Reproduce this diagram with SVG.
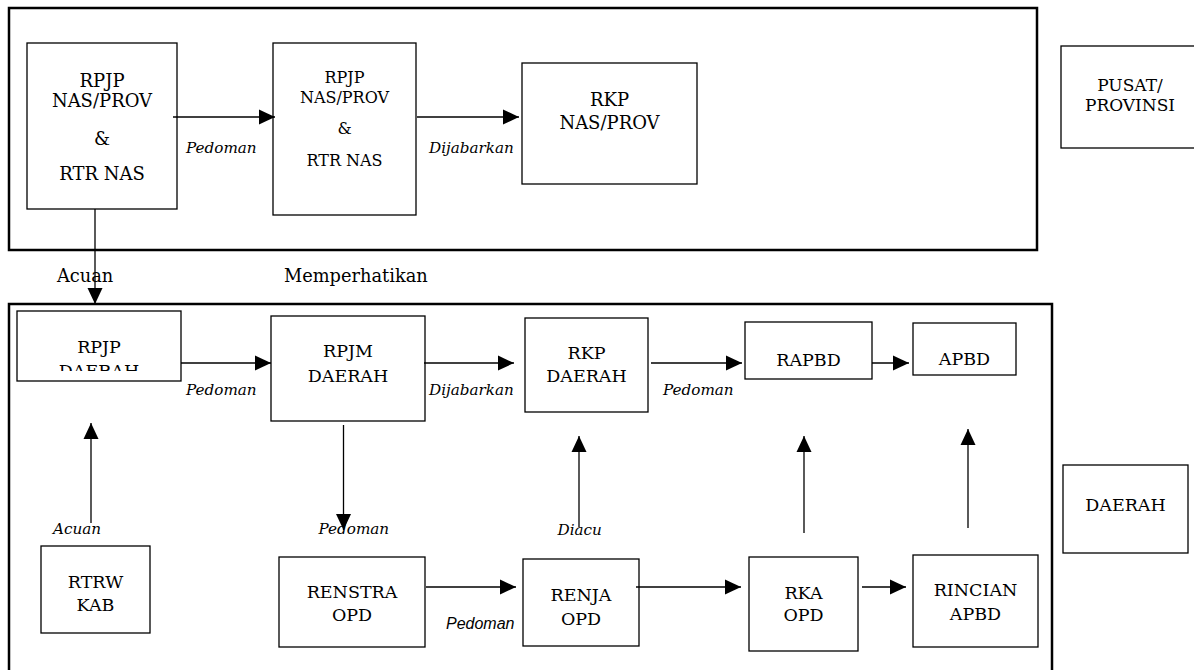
<svg xmlns="http://www.w3.org/2000/svg" width="1194" height="670" viewBox="0 0 1194 670">
<style>
.frame{fill:none;stroke:#000;stroke-width:2.5}
.box{fill:#fff;stroke:#000;stroke-width:1.3}
.t{font-family:"DejaVu Serif","Liberation Serif",serif;font-size:17.5px;fill:#000;text-anchor:middle}
.tb{font-family:"DejaVu Serif","Liberation Serif",serif;font-size:18px;fill:#000;text-anchor:middle}
.t2{font-family:"DejaVu Serif","Liberation Serif",serif;font-size:16px;fill:#000;text-anchor:middle}
.t3{font-family:"DejaVu Serif","Liberation Serif",serif;font-size:17px;fill:#000;text-anchor:middle}
.lab{font-family:"DejaVu Serif","Liberation Serif",serif;font-size:15.2px;font-style:italic;fill:#000}
.labs{font-family:"Liberation Sans",Arial,sans-serif;font-size:16px;font-style:italic;fill:#000}
.plain{font-family:"DejaVu Serif","Liberation Serif",serif;font-size:17.8px;fill:#000}
.c{fill:none;stroke:#000;stroke-width:1.3}
</style>
<defs>
<marker id="ah" markerUnits="userSpaceOnUse" markerWidth="16" markerHeight="16" viewBox="0 0 16 16" refX="16" refY="8" orient="auto">
<path d="M0,0.5 L16,8 L0,15.5 Z" fill="#000"/>
</marker>
<clipPath id="clipRpjp"><rect x="17" y="311" width="165" height="60"/></clipPath>
</defs>
<rect width="1194" height="670" fill="#fff"/>
<g id="frame-pusat"><rect class="frame" x="9" y="8" width="1028" height="242"/></g>
<g id="frame-daerah"><rect class="frame" x="9" y="304" width="1043" height="380"/></g>
<g id="pusat-provinsi"><rect class="box" x="1061" y="46" width="150" height="102"/><text class="t3" x="1130" y="91.2">PUSAT/</text><text class="t3" x="1130" y="111.2">PROVINSI</text></g>
<g id="daerah"><rect class="box" x="1063" y="465" width="125" height="88"/><text class="t" x="1125.5" y="511.4">DAERAH</text></g>
<g id="rpjp-nas"><rect class="box" x="27" y="43" width="150" height="166"/><text class="tb" x="102" y="86.5">RPJP</text><text class="tb" x="102" y="106.5">NAS/PROV</text><text class="tb" x="102" y="144.5">&amp;</text><text class="tb" x="102" y="179.5">RTR NAS</text></g>
<g id="rpjp-nas-2"><rect class="box" x="273" y="43" width="143" height="172"/><text class="t2" x="344.5" y="82.8">RPJP</text><text class="t2" x="344.5" y="102.8">NAS/PROV</text><text class="t2" x="344.5" y="133.8">&amp;</text><text class="t2" x="344.5" y="165.8">RTR NAS</text></g>
<g id="rkp-nas"><rect class="box" x="522" y="63" width="175" height="121"/><text class="tb" x="609.5" y="105.8">RKP</text><text class="tb" x="609.5" y="129.2">NAS/PROV</text></g>
<g id="rpjp-daerah"><rect class="box" x="17" y="311" width="164" height="70"/><g clip-path="url(#clipRpjp)"><text class="t" x="99" y="353">RPJP</text><text class="t" x="99" y="377">DAERAH</text></g></g>
<g id="rpjm-daerah"><rect class="box" x="271" y="316" width="154" height="105"/><text class="t" x="348" y="357">RPJM</text><text class="t" x="348" y="382">DAERAH</text></g>
<g id="rkp-daerah"><rect class="box" x="525" y="318" width="123" height="94"/><text class="t" x="586.5" y="359.4">RKP</text><text class="t" x="586.5" y="382.4">DAERAH</text></g>
<g id="rapbd"><rect class="box" x="745" y="322" width="127" height="57"/><text class="t" x="808.5" y="365.7">RAPBD</text></g>
<g id="apbd"><rect class="box" x="913" y="323" width="103" height="52"/><text class="t" x="964.5" y="365.4">APBD</text></g>
<g id="rtrw-kab"><rect class="box" x="41" y="546" width="109" height="87"/><text class="t" x="95.5" y="588">RTRW</text><text class="t" x="95.5" y="611.4">KAB</text></g>
<g id="renstra-opd"><rect class="box" x="279" y="557" width="146" height="90"/><text class="t" x="352" y="598">RENSTRA</text><text class="t" x="352" y="621.4">OPD</text></g>
<g id="renja-opd"><rect class="box" x="523" y="559" width="116" height="87"/><text class="t" x="581" y="601.4">RENJA</text><text class="t" x="581" y="624.7">OPD</text></g>
<g id="rka-opd"><rect class="box" x="749" y="557" width="109" height="94"/><text class="t" x="803.5" y="599">RKA</text><text class="t" x="803.5" y="621.4">OPD</text></g>
<g id="rincian-apbd"><rect class="box" x="913" y="555" width="125" height="92"/><text class="t" x="975.5" y="596.4">RINCIAN</text><text class="t" x="975.5" y="620.4">APBD</text></g>
<g id="connectors">
<line class="c" x1="173" y1="117" x2="275" y2="117" marker-end="url(#ah)"/>
<line class="c" x1="417" y1="117" x2="519" y2="117" marker-end="url(#ah)"/>
<line class="c" x1="95" y1="209" x2="95" y2="304" marker-end="url(#ah)"/>
<line class="c" x1="181" y1="363" x2="271" y2="363" marker-end="url(#ah)"/>
<line class="c" x1="424" y1="363" x2="514" y2="363" marker-end="url(#ah)"/>
<line class="c" x1="651" y1="363" x2="742" y2="363" marker-end="url(#ah)"/>
<line class="c" x1="872" y1="363" x2="909" y2="363" marker-end="url(#ah)"/>
<line class="c" x1="91" y1="523" x2="91" y2="423" marker-end="url(#ah)"/>
<line class="c" x1="343.5" y1="425" x2="343.5" y2="530" marker-end="url(#ah)"/>
<line class="c" x1="579" y1="527" x2="579" y2="436" marker-end="url(#ah)"/>
<line class="c" x1="804" y1="533" x2="804" y2="436" marker-end="url(#ah)"/>
<line class="c" x1="968" y1="528" x2="968" y2="429" marker-end="url(#ah)"/>
<line class="c" x1="426" y1="587" x2="516" y2="587" marker-end="url(#ah)"/>
<line class="c" x1="636" y1="587" x2="741" y2="587" marker-end="url(#ah)"/>
<line class="c" x1="862" y1="587" x2="906" y2="587" marker-end="url(#ah)"/>
</g>
<g id="labels">
<text class="lab" x="186" y="153">Pedoman</text>
<text class="lab" x="429" y="153">Dijabarkan</text>
<text class="plain" x="57" y="281.5">Acuan</text>
<text class="plain" x="284" y="281.5">Memperhatikan</text>
<text class="lab" x="186" y="395">Pedoman</text>
<text class="lab" x="429" y="395">Dijabarkan</text>
<text class="lab" x="663" y="395">Pedoman</text>
<text class="lab" x="53" y="534">Acuan</text>
<text class="lab" x="318.5" y="534">Pedoman</text>
<text class="lab" x="557.5" y="535">Diacu</text>
<text class="labs" x="446" y="629">Pedoman</text>
</g>
</svg>
